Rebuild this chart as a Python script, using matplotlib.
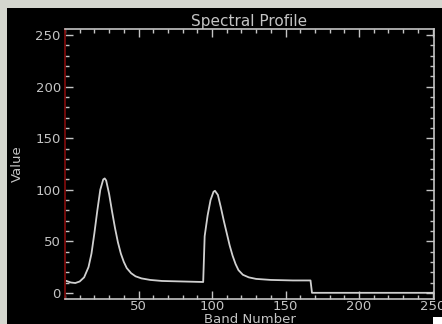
import matplotlib
matplotlib.use("Agg")
import matplotlib.pyplot as plt
from matplotlib.patches import Rectangle
from matplotlib.ticker import MultipleLocator

bands = [1, 4, 7, 10, 13, 16, 18, 20, 22, 24, 26, 27, 28, 30, 32, 34, 36, 38, 40,
         42, 45, 48, 52, 58, 66, 80, 94, 95, 97, 99, 101, 102, 104, 106, 108, 110,
         112, 114, 116, 118, 121, 125, 130, 140, 155, 167, 168, 250]
values = [11.5, 10, 9.5, 11, 15, 25, 38, 58, 80, 100, 110, 111, 109, 96, 79, 63, 49, 38, 30,
          24, 19, 16, 14, 12.5, 11.5, 11, 10.5, 55, 75, 90, 98, 99, 95, 83, 70, 58,
          46, 36, 28, 22, 17.5, 15, 13.5, 12.5, 12, 12, 0, 0]
x_ticks = [50, 100, 150, 200, 250]
y_ticks = [0, 50, 100, 150, 200, 250]

W, H = 442, 324
fig = plt.figure(figsize=(W / 100, H / 100), dpi=100)
fig.patch.set_facecolor("#d5d7cf")
fig.patches.append(Rectangle((7 / W, 0), 1, 1 - 8 / H, transform=fig.transFigure,
                             facecolor="black", edgecolor="none", zorder=-5))

ax = fig.add_axes([65 / W, 1 - 299 / H, (434 - 65) / W, (299 - 29) / H])
ax.set_zorder(1)
ax.set_facecolor("black")
fg = "#c4c4c4"
ax.plot(bands, values, color="#d0d0d0", lw=1.3)
ax.set_xlim(0, 251)
ax.set_ylim(-6, 256)
ax.set_xticks(x_ticks)
ax.set_yticks(y_ticks)
ax.xaxis.set_minor_locator(MultipleLocator(10))
ax.yaxis.set_minor_locator(MultipleLocator(10))
for s in ["top", "bottom", "right"]:
    ax.spines[s].set_color(fg)
    ax.spines[s].set_linewidth(1.2)
ax.spines["left"].set_color("#7a0c0c")
ax.spines["left"].set_linewidth(1.3)
ax.tick_params(which="both", direction="in", top=True, right=True, colors=fg,
               labelsize=9.5, width=1)
ax.tick_params(axis="x", pad=1)
ax.tick_params(axis="y", pad=3)
ax.tick_params(which="major", length=6)
ax.tick_params(which="minor", length=3)
ax.set_title("Spectral Profile", color=fg, fontsize=11, pad=1)
ax.set_xlabel("Band Number", color=fg, fontsize=9.5, labelpad=0)
ax.set_ylabel("Value", color=fg, fontsize=9.5, labelpad=8)

fig.patches.append(Rectangle((433 / W, 0), 1, 7 / H, transform=fig.transFigure,
                             facecolor="white", edgecolor="none", zorder=10))

fig.savefig("out.png", dpi=100, facecolor=fig.get_facecolor())
